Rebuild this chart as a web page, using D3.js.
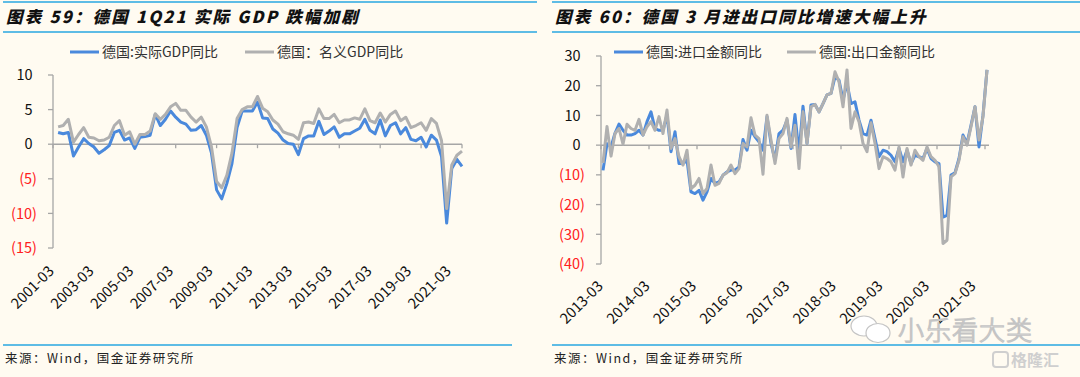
<!DOCTYPE html>
<html lang="zh">
  <head>
    <meta charset="UTF-8" />
    <title>德国 GDP 与进出口</title>
    <script src="https://d3js.org/d3.v7.min.js"></script>
    <style>
      body {
        margin: 0;
        background-color: #fffbf1;
      }
      svg text {
        font-family: "Noto Sans CJK SC", "Noto Sans", sans-serif;
      }
    </style>
  </head>
  <body>
    <svg id="chart" width="1080" height="377"></svg>
    <script>
      // 图表 59：季度，2001-03 ~ 2021-03（首个季度无数据）
      const gdpTickLabels = ["2001-03", "2003-03", "2005-03", "2007-03", "2009-03", "2011-03",
        "2013-03", "2015-03", "2017-03", "2019-03", "2021-03"];
      const realGdp = [null,
        1.7, 1.5, 1.7, -1.7, -0.4, 0.8, 0.1, -0.4, -1.3, -0.8,
        -0.2, 1.7, 2.0, 0.6, 0.9, -0.6, 1.0, 1.1, 1.3, 4.3,
        2.7, 3.6, 4.8, 3.9, 3.2, 2.9, 2.0, 2.1, 2.7, 1.3,
        -1.3, -6.6, -7.9, -5.7, -2.8, 2.4, 4.8, 4.8, 4.8, 6.1,
        3.8, 3.7, 2.2, 1.6, 0.6, 0.1, 0.0, -1.5, 0.8, 1.2,
        1.2, 3.3, 1.4, 1.9, 2.5, 1.0, 1.5, 1.5, 1.9, 2.3,
        3.6, 2.0, 1.5, 3.5, 1.2, 2.7, 3.1, 1.5, 2.4, 0.7,
        0.5, 1.0, -0.4, 1.3, 0.6, -1.8, -11.4, -3.5, -2.2, -3.2];
      const nominalGdp = [null,
        2.5, 2.7, 3.6, 0.3, 1.4, 2.4, 1.0, 0.9, 0.5, 0.6,
        1.0, 2.7, 3.4, 1.3, 1.8, 0.0, 1.4, 1.4, 1.9, 4.4,
        3.6, 4.3, 5.4, 5.9, 4.9, 4.9, 3.9, 3.2, 3.9, 2.5,
        -0.4, -5.4, -6.3, -4.5, -1.3, 3.7, 5.0, 5.4, 5.4, 6.9,
        5.2, 4.7, 3.5, 2.9, 1.8, 1.5, 1.3, 0.7, 3.1, 3.2,
        3.0, 5.1, 3.7, 3.7, 4.3, 3.1, 3.5, 3.5, 3.8, 3.6,
        5.1, 3.4, 3.1, 4.5, 3.2, 4.3, 4.8, 3.4, 3.9, 2.4,
        2.7, 3.1, 2.0, 3.7, 3.0, 0.5, -9.3, -3.0, -1.6, -1.0];
      const gdpTicks = [-15, -10, -5, 0, 5, 10];

      // 图表 60：月度，2013-03 ~ 2021-03
      const tradeTickLabels = ["2013-03", "2014-03", "2015-03", "2016-03", "2017-03",
        "2018-03", "2019-03", "2020-03", "2021-03"];
      const imports = [
        -8.5, 0.5, -0.6, 4.0, 7.1, 5.0, 3.4, 3.4, 3.9, 5.0,
        3.4, 7.9, 11.2, 5.6, 5.0, 5.0, 10.1, -2.2, 4.5, -6.2,
        -6.2, -5.0, -15.7, -16.3, -15.2, -18.5, -15.7, -11.2, -12.9, -12.4,
        -10.1, -9.0, -8.4, -8.4, -7.3, 1.9, -1.7, 5.0, 2.8, 1.1,
        -1.7, 9.6, 0.6, -5.0, 3.9, 5.0, 8.4, -1.1, 10.3, -2.8,
        13.1, 0.6, 13.5, 13.7, 11.2, 14.0, 16.9, 17.4, 23.0, 21.9,
        15.2, 20.8, 14.0, 14.6, 8.4, 3.9, 3.4, 8.4, 2.2, -3.9,
        -1.7, -2.2, -3.4, -5.6, -1.1, -5.6, -1.7, -6.2, -3.4, -3.9,
        -4.5, -1.1, -4.5, -5.6, -6.2, -24.2, -23.6, -10.1, -9.3, -4.5,
        3.4, 0.6, 6.7, 12.9, -0.6, 10.1, 25.3];
      const exports = [
        -6.0, 6.3, -3.7, 3.9, 5.6, 0.3, 7.0, 5.6, 5.0, 8.7,
        3.4, 6.2, 7.9, 5.0, 9.6, 3.9, 11.8, -1.1, 2.2, -3.9,
        -6.7, -1.7, -14.6, -13.5, -11.2, -16.3, -14.6, -6.7, -13.5, -12.9,
        -10.1, -9.3, -6.7, -9.6, -7.9, 0.6, -0.6, 9.2, 3.4, 2.2,
        -9.8, 10.1, 1.7, -6.2, 2.2, 3.9, 9.0, -0.6, 6.7, -7.9,
        11.2, 0.6, 12.9, 13.7, 11.2, 14.0, 16.9, 17.4, 24.7, 21.3,
        12.9, 25.3, 5.6, 11.2, 7.9, 0.6, -2.2, 7.5, 0.6, -7.9,
        -3.9, -4.5, -5.6, -8.4, -0.6, -10.7, -1.1, -6.7, -1.7, -3.9,
        -5.1, -0.6, -3.9, -5.1, -7.3, -33.1, -32.0, -10.7, -9.6, -5.1,
        2.8, 0.0, 6.2, 12.9, 1.7, 9.6, 25.3];
      const tradeTicks = [-40, -30, -20, -10, 0, 10, 20, 30];

      const BLUE = "#4a89dc";
      const GRAY = "#b0b0b0";
      const RULE = "#29a7e1";
      const AXIS = "#a6a6a6";

      const svg = d3.select("#chart");

      const fmt = (v) => (v < 0 ? `(${Math.abs(v)})` : `${v}`);

      function frame(x0, x1, title, legend) {
        // 标题上下的蓝色分隔线
        svg.append("line").attr("x1", x0).attr("x2", x1).attr("y1", 2).attr("y2", 2)
          .attr("stroke", RULE).attr("stroke-width", 1.5);
        svg.append("line").attr("x1", x0).attr("x2", x1).attr("y1", 32).attr("y2", 32)
          .attr("stroke", RULE).attr("stroke-width", 1.5);
        svg.append("line").attr("x1", x0).attr("x2", legend.ruleEnd).attr("y1", 345).attr("y2", 345)
          .attr("stroke", RULE).attr("stroke-width", 1.5);

        svg.append("text")
          .attr("x", x0 + 3).attr("y", 23)
          .attr("font-size", 16.5).attr("font-weight", 900).attr("font-style", "italic")
          .attr("letter-spacing", 2.2)
          .attr("fill", "#111")
          .text(title);

        svg.append("text")
          .attr("x", x0 + 2).attr("y", 363)
          .attr("font-size", 12.5).attr("letter-spacing", 1.5)
          .attr("fill", "#222")
          .text("来源：Wind，国金证券研究所");

        legend.items.forEach((it) => {
          svg.append("line")
            .attr("x1", it.x).attr("x2", it.x + 29).attr("y1", 52).attr("y2", 52)
            .attr("stroke", it.color).attr("stroke-width", 3);
          svg.append("text")
            .attr("x", it.x + 32).attr("y", 57)
            .attr("font-size", 14).attr("fill", "#333")
            .text(it.label);
        });
      }

      function yAxis(y, xAxis, ticks, labelRight) {
        svg.append("line")
          .attr("x1", xAxis).attr("x2", xAxis)
          .attr("y1", y(d3.max(ticks))).attr("y2", y(d3.min(ticks)))
          .attr("stroke", AXIS).attr("stroke-width", 1.3);
        ticks.forEach((t) => {
          svg.append("line")
            .attr("x1", xAxis - 5).attr("x2", xAxis)
            .attr("y1", y(t)).attr("y2", y(t))
            .attr("stroke", AXIS).attr("stroke-width", 1.3);
          svg.append("text")
            .attr("x", t < 0 ? labelRight : labelRight - 4.5)
            .attr("y", y(t)).attr("dy", "0.36em")
            .attr("text-anchor", "end")
            .attr("font-family", "Noto Sans")
            .attr("font-size", 14.5)
            .attr("fill", t < 0 ? "#ff2020" : "#111")
            .text(fmt(t));
        });
      }

      function series(values, x, y, color) {
        const line = d3.line()
          .defined((d) => d != null)
          .x((d, i) => x(i))
          .y((d) => y(d));
        svg.append("path")
          .datum(values)
          .attr("fill", "none")
          .attr("stroke", color)
          .attr("stroke-width", 3)
          .attr("stroke-linejoin", "round")
          .attr("d", line);
      }

      // ---------- 图表 59 ----------
      const xL = d3.scaleLinear().domain([0, realGdp.length - 1]).range([53, 462]);
      const yL = d3.scaleLinear().domain([-15, 10]).range([248, 75]);

      frame(3, 537, "图表 59：德国 1Q21 实际 GDP 跌幅加剧", {
        ruleEnd: 512,
        items: [
          { x: 70, color: BLUE, label: "德国:实际GDP同比" },
          { x: 245, color: GRAY, label: "德国：名义GDP同比" },
        ],
      });
      yAxis(yL, 53, gdpTicks, 37);

      svg.append("line")
        .attr("x1", xL(0)).attr("x2", xL(realGdp.length - 1))
        .attr("y1", yL(0)).attr("y2", yL(0))
        .attr("stroke", AXIS).attr("stroke-width", 1.5);
      gdpTickLabels.forEach((lab, k) => {
        const px = xL(k * 8);
        svg.append("line")
          .attr("x1", px).attr("x2", px).attr("y1", yL(0)).attr("y2", yL(0) + 4)
          .attr("stroke", AXIS).attr("stroke-width", 1.3);
        svg.append("text")
          .attr("transform", `translate(${px + 2 - k * 1.2},${yL(-15) + 24}) rotate(-45)`)
          .attr("text-anchor", "end")
          .attr("font-family", "Noto Sans")
          .attr("font-size", 14.5)
          .attr("fill", "#111")
          .text(lab);
      });

      series(realGdp, xL, yL, BLUE);
      series(nominalGdp, xL, yL, GRAY);

      // ---------- 图表 60 ----------
      const xR = d3.scaleBand().domain(d3.range(imports.length)).range([601, 989]);
      const cR = (i) => xR(i) + xR.bandwidth() / 2;
      const yR = d3.scaleLinear().domain([-40, 30]).range([264, 56]);

      frame(552, 1080, "图表 60：德国 3 月进出口同比增速大幅上升", {
        ruleEnd: 1080,
        items: [
          { x: 614, color: BLUE, label: "德国:进口金额同比" },
          { x: 787, color: GRAY, label: "德国:出口金额同比" },
        ],
      });
      yAxis(yR, 601, tradeTicks, 585);

      svg.append("line")
        .attr("x1", 601).attr("x2", 989)
        .attr("y1", yR(0)).attr("y2", yR(0))
        .attr("stroke", AXIS).attr("stroke-width", 1.5);
      d3.range(0, imports.length, 12).forEach((i) => {
        svg.append("line")
          .attr("x1", xR(i)).attr("x2", xR(i)).attr("y1", yR(0)).attr("y2", yR(0) + 4)
          .attr("stroke", AXIS).attr("stroke-width", 1.3);
      });
      tradeTickLabels.forEach((lab, k) => {
        const px = cR(k * 12);
        svg.append("text")
          .attr("transform", `translate(${px + 1 - k * 1.4},${yR(-40) + 23}) rotate(-45)`)
          .attr("text-anchor", "end")
          .attr("font-family", "Noto Sans")
          .attr("font-size", 14.5)
          .attr("fill", "#111")
          .text(lab);
      });

      series(imports, cR, yR, BLUE);
      series(exports, cR, yR, GRAY);

      // 水印
      const wm = svg.append("g").attr("fill", "#fff").attr("stroke", "#c4c4c4").attr("stroke-width", 1.2);
      wm.append("ellipse").attr("cx", 864).attr("cy", 326).attr("rx", 13).attr("ry", 10);
      wm.append("ellipse").attr("cx", 878).attr("cy", 333).attr("rx", 12).attr("ry", 9.5);
      wm.append("text")
        .attr("x", 898).attr("y", 340)
        .attr("font-size", 26).attr("font-weight", 300)
        .attr("letter-spacing", 1)
        .text("小乐看大类");
      const logo = svg.append("g").attr("fill", "#cfcfcf");
      logo.append("rect").attr("x", 993).attr("y", 352).attr("width", 15).attr("height", 15)
        .attr("rx", 3).attr("fill", "none").attr("stroke", "#cfcfcf").attr("stroke-width", 2);
      logo.append("text").attr("x", 1011).attr("y", 366)
        .attr("font-size", 16).attr("font-weight", "bold")
        .text("格隆汇");
    </script>
  </body>
</html>
